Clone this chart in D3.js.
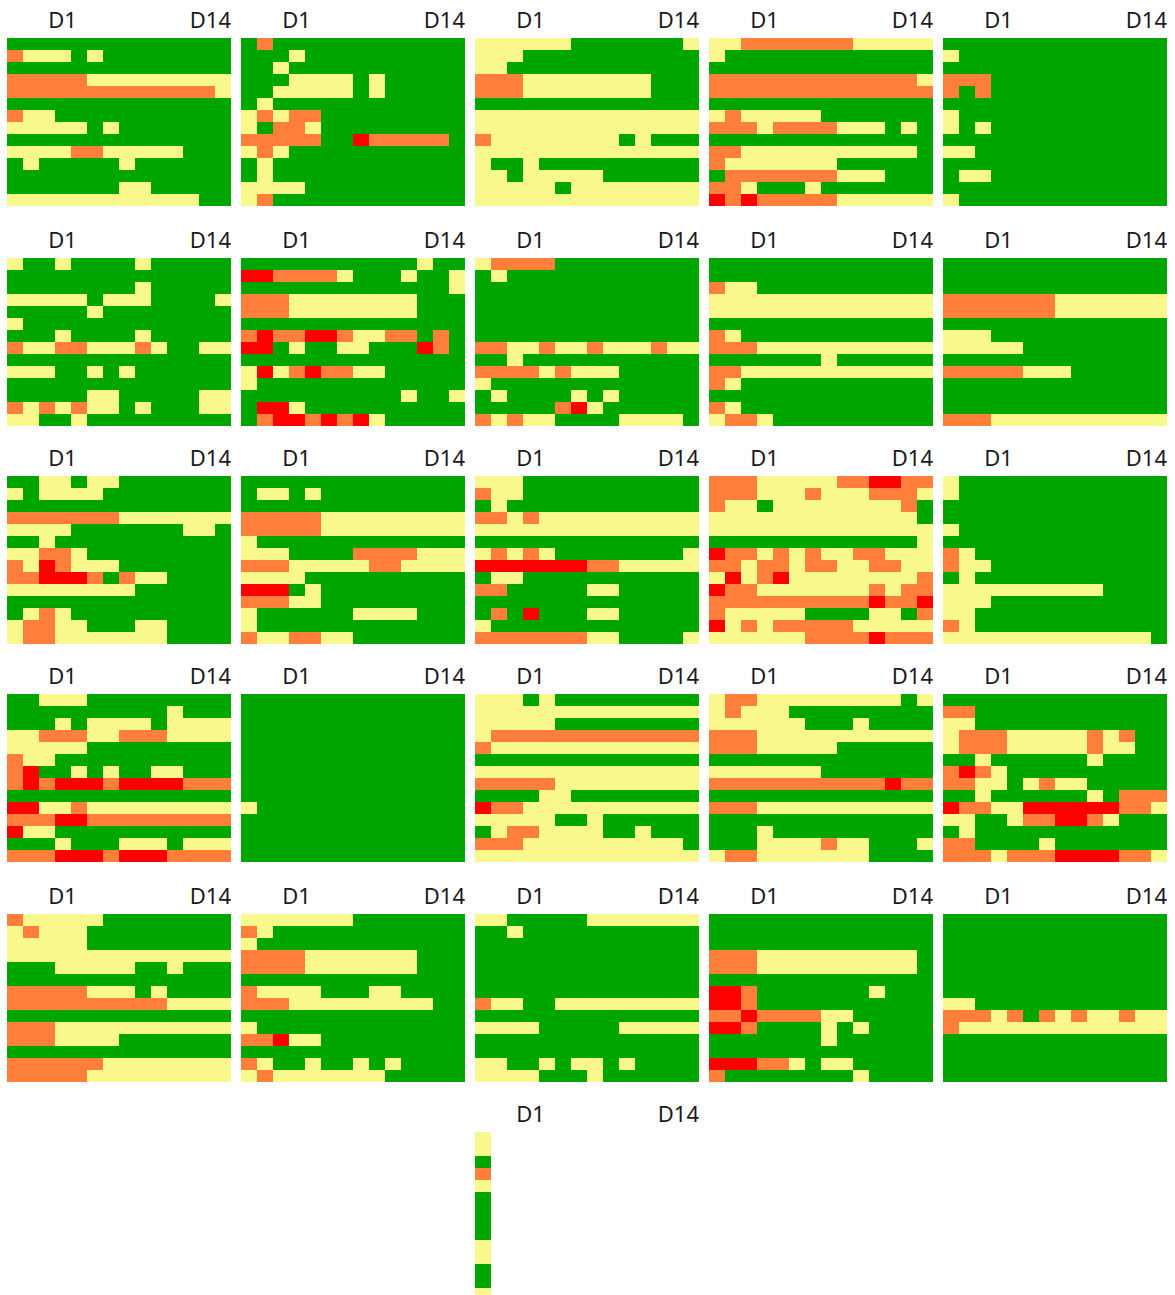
<!DOCTYPE html>
<html>
<head>
<meta charset="utf-8">
<script src="https://cdn.jsdelivr.net/npm/d3@7"></script>
<style>
  html, body { margin: 0; padding: 0; background: #ffffff; overflow: hidden; }
  svg { display: block; }
  .day-label { font-family: "Noto Sans", "Open Sans", sans-serif; font-size: 22px; fill: #1a1a1a; }
</style>
</head>
<body>
<svg id="chart" width="1175" height="1300"></svg>
<script>
// Days along each grid (columns); only first and last are labelled.
const days = d3.range(1, 15).map(d => "D" + d);
const dayTicks = ["D1", "D14"];

// Alert levels: 0 = none, 1 = low, 2 = elevated, 3 = high.
const levels = [0, 1, 2, 3];
const levelColors = ["#00a600", "#f9f88c", "#ff7f3a", "#ff0000"];

// One grid per unit: 14 rows, each a string of daily levels.
const p01 = ["00000000000000","21110100000000","00000000000000","22222111111111","22222222222221","00000000000000","21100000000000","11111010000000","00000000000000","11112211111000","01000001000000","00000000000000","00000001100000","11111111111100"];
const p02 = ["02000000000000","00010000000000","00100000000000","00011110100000","00111110100000","01000000000000","12122000000000","10221000000000","22222003222220","12100000000000","01000000000000","01000000000000","11110000000000","12000000000000"];
const p03 = ["11111100000001","11100000000000","11000000000000","22211111111000","22211111111000","00000000000000","11111111111111","11111111111111","21111111101000","11111111111111","10010000000000","11011111000000","11111011111111","11111111111111"];
const p04 = ["11222222211111","10000000000000","00000000000000","22222222222221","22222222222222","00000000000000","12111110000000","22212222111010","00000000000000","22111111111110","21111111000000","02222222111000","22100010000000","32322222111111"];
const p05 = ["00000000000000","10000000000000","00000000000000","22200000000000","20200000000000","00000000000000","10000000000000","10100000000000","00000000000000","11000000000000","00000000000000","01100000000000","00000000000000","10000000000000"];
const p06 = ["10010000100000","00000000000000","00000000100000","11111011100001","00000100000000","10000000000000","00010000100000","21122111210011","00000000000000","11100101000000","00000000000000","00000110000011","21212110100011","11001000000000"];
const p07 = ["00000000000100","33222210001001","00000000000001","22211111111000","22211111111000","00000000000000","23223321122020","33010011000320","00000000000000","13123221100000","10000000000000","00000000001001","03310000000000","02332323100000"];
const p08 = ["12222000000000","01000000000000","00000000000000","00000000000000","00000000000000","00000000000000","00000000000000","22112112111211","00100000000000","22221211100000","10000000000000","01000010100000","00000231000000","21211000011110"];
const p09 = ["00000000000000","00000000000000","21100000000000","11111111111111","11111111111111","00000000000000","21000000000000","22211111111111","00000001000000","22111111111111","21000000000000","00000000000000","21000000000000","12210000000000"];
const p10 = ["00000000000000","00000000000000","00000000000000","22222221111111","22222221111111","00000000000000","11100000000000","11111000000000","00000000000000","22222111000000","00000000000000","00000000000000","00000000000000","22211111111111"];
const p11 = ["00110110000000","10111100000000","00000000000000","22222221111111","11110000000110","00100000000000","11221000000000","21321110000000","22333202110000","11111111000000","00000000000000","01210000000000","12211000110000","12211111110000"];
const p12 = ["00000000000000","01101000000000","00000000000000","22222111111111","22222111111111","10000000000000","11100002222111","22211111221111","11110000000000","33301000000000","22211000000000","10000001111000","10000000000000","21122110000000"];
const p13 = ["11100000000000","21100000000000","01000000000000","22121111111111","11111111111111","00000000000000","12121000000001","33333332211111","01100000000000","22000001100000","00000000000000","02030001100000","10000000000000","22222221100001"];
const p14 = ["22211111223322","22211121112221","21101111111120","11111111111110","11111111111111","00000000000001","32212121122111","22122122112211","13123111111112","32211111112122","22222222223223","21111100001102","31212222211111","11111122223222"];
const p15 = ["10000000000000","10000000000000","00000000000000","00000000000000","10000000000000","00000000000000","21000000000000","21100000000000","01000000000000","11111111110000","11100000000000","11000000000000","21000000000000","11111111111110"];
const p16 = ["00111000000000","00000000001000","00010111101111","11222112221111","11111000000000","21100000000000","23001010011000","23233323333222","00000000000000","33112111111111","22233222222222","31100000000000","00010001110111","22233323332222"];
const p17 = ["00000000000000","00000000000000","00000000000000","00000000000000","00000000000000","00000000000000","00000000000000","00000000000000","00000000000000","10000000000000","00000000000000","00000000000000","00000000000000","00000000000000"];
const p18 = ["11101000000000","11111111111111","11111000000000","12222222222222","21111111111111","00000000000000","11111111111111","22222111111111","00001100000000","32211111111111","11111001000000","01221111001000","22211111111110","11111111111111"];
const p19 = ["12211111111101","12111000000000","11111100010000","22211111111111","22211111000000","00000000000000","11111110000000","22222222222322","00000000000000","22211111111111","00000000000000","00010000000000","00011112110001","12211111110000"];
const p20 = ["00000000000000","22000000000000","11000000000000","12221111121200","12221111121100","00100000010000","23210000000000","22110121100000","00100000010222","32211333333221","11001223321000","01000000000000","22000010000000","22212223333221"];
const p21 = ["21111100000000","12111000000000","11111000000000","11111111111111","00011111001000","00000000000000","22222111010000","22222222221111","00000000000000","22211111111111","22211110000000","00000000000000","22222211111111","22222111111111"];
const p22 = ["11111110000000","21000000000000","10000000000000","22221111111000","22221111111000","00000000000000","21111000110000","22211111111100","00000000000000","10000000000000","22311000000000","00000000000000","21001001010000","12111111100000"];
const p23 = ["11000001111111","00100000000000","00000000000000","00000000000000","00000000000000","00000000000000","00000000000000","21100111111111","00000000000000","11110000011111","00000000000000","00000000000000","11001011010000","11110001000000"];
const p24 = ["00000000000000","00000000000000","00000000000000","22211111111110","22211111111110","00000000000000","33200000001000","33200000000000","22322221100000","33200001010000","00000001000000","00000000000000","33322101100000","20000000010000"];
const p25 = ["00000000000000","00000000000000","00000000000000","00000000000000","00000000000000","00000000000000","00000000000000","11000000000000","22212021211211","21111111111111","00000000000000","00000000000000","00000000000000","00000000000000"];
// Only the first day has been recorded for the last unit.
const p26 = ["1","1","0","2","1","0","0","0","0","1","1","0","0","1"];

const panels = [p01, p02, p03, p04, p05, p06, p07, p08, p09, p10, p11, p12, p13,
                p14, p15, p16, p17, p18, p19, p20, p21, p22, p23, p24, p25, p26];

// Layout of the small-multiple grid
const perRow = 5;
const panelW = 224, panelH = 168;
const left = 7, colStep = 234;
const rowTops = [38, 258, 476, 694, 914, 1132];

const x = d3.scaleBand().domain(days).range([0, panelW]);
const y = d3.scaleBand().domain(d3.range(14)).range([0, panelH]);
const color = d3.scaleOrdinal().domain(levels).range(levelColors);

const svg = d3.select("#chart");
const nRows = Math.ceil(panels.length / perRow);

const cells = panels.map((grid, i) => {
  const r = Math.floor(i / perRow);
  const inRow = r === nRows - 1 ? panels.length - r * perRow : perRow;
  const c = (i % perRow) + (perRow - inRow) / 2;
  return { grid, px: left + c * colStep, py: rowTops[r] };
});

const g = svg.selectAll("g.panel")
  .data(cells)
  .join("g")
  .attr("class", "panel")
  .attr("transform", d => `translate(${d.px},${d.py})`);

g.selectAll("rect")
  .data(d => d.grid.flatMap((row, ri) =>
    Array.from(row).map((v, ci) => ({ day: days[ci], row: ri, level: +v }))))
  .join("rect")
  .attr("x", d => x(d.day))
  .attr("y", d => y(d.row))
  .attr("width", x.bandwidth())
  .attr("height", y.bandwidth())
  .attr("fill", d => color(d.level))
  .attr("shape-rendering", "crispEdges");

g.append("text")
  .attr("class", "day-label")
  .attr("x", 55.5)
  .attr("y", -10.5)
  .attr("text-anchor", "middle")
  .text(dayTicks[0]);

g.append("text")
  .attr("class", "day-label")
  .attr("x", panelW)
  .attr("y", -10.5)
  .attr("text-anchor", "end")
  .text(dayTicks[1]);
</script>
</body>
</html>
